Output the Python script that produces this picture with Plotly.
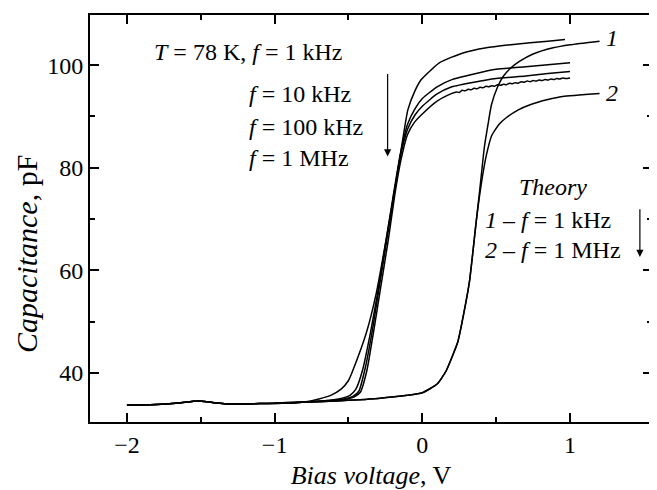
import plotly.graph_objects as go

# ---- data ----
base_v = [-2.0, -1.8, -1.65, -1.52, -1.42, -1.3, -1.1, -0.9, -0.8]
base_c = [33.7, 33.8, 34.1, 34.5, 34.2, 33.9, 34.0, 34.1, 34.3]

exp1k_v = base_v + [-0.7, -0.62, -0.55, -0.5, -0.47, -0.38, -0.312, -0.222, -0.154, -0.098, -0.05, -0.007, 0.117, 0.275, 0.434, 0.6, 0.73, 0.85, 0.966]
exp1k_c = base_c + [34.9, 35.6, 36.8, 38.5, 40.5, 47.7, 55.5, 69.8, 81.6, 91.3, 95.0, 97.2, 100.5, 102.4, 103.4, 104.0, 104.4, 104.7, 105.0]

exp10k_v = base_v + [-0.65, -0.55, -0.49, -0.45, -0.405, -0.35, -0.3, -0.25, -0.2, -0.15, -0.1, -0.05, 0.0, 0.1, 0.2, 0.35, 0.5, 0.7, 0.85, 1.0]
exp10k_c = base_c + [34.6, 35.0, 35.6, 36.8, 40.5, 48.0, 56.0, 65.0, 74.0, 82.5, 88.5, 91.5, 93.5, 95.8, 97.2, 98.3, 99.2, 99.7, 100.1, 100.5]

exp100k_v = base_v + [-0.65, -0.53, -0.47, -0.43, -0.39, -0.34, -0.29, -0.24, -0.19, -0.15, -0.1, -0.05, 0.0, 0.1, 0.2, 0.35, 0.5, 0.7, 0.85, 1.0]
exp100k_c = base_c + [34.5, 34.9, 35.4, 36.4, 40.5, 48.0, 57.0, 66.0, 75.0, 82.0, 87.5, 90.3, 92.0, 94.4, 95.8, 96.7, 97.4, 97.9, 98.4, 98.8]

exp1M_v = base_v + [-0.65, -0.52, -0.46, -0.42, -0.375, -0.33, -0.28, -0.23, -0.185, -0.145, -0.1, -0.05, 0.0, 0.1, 0.2,
                    0.23, 0.25, 0.27, 0.29, 0.31, 0.33, 0.35, 0.37, 0.39, 0.41, 0.43, 0.45, 0.47, 0.49, 0.51, 0.53, 0.55,
                    0.57, 0.59, 0.61, 0.63, 0.65, 0.67, 0.69, 0.71, 0.73, 0.75, 0.77, 0.79, 0.81, 0.83, 0.85, 0.87,
                    0.89, 0.91, 0.93, 0.95, 0.97, 1.0]
exp1M_c = base_c + [34.4, 34.8, 35.3, 36.2, 40.5, 48.0, 57.0, 66.0, 75.0, 81.5, 86.5, 89.0, 90.5, 93.0, 94.5,
                    94.8, 94.7, 95.1, 95.0, 95.3, 95.2, 95.5, 95.4, 95.7, 95.6, 95.9, 95.8, 96.0, 95.9, 96.2, 96.1, 96.3,
                    96.2, 96.5, 96.4, 96.6, 96.5, 96.8, 96.7, 96.9, 96.8, 97.0, 96.9, 97.1, 97.0, 97.2, 97.1, 97.3,
                    97.2, 97.4, 97.3, 97.5, 97.4, 97.5]

th1_v = [-1.0, -0.6, -0.3, -0.1, 0.0, 0.1, 0.16, 0.2, 0.24, 0.28, 0.32, 0.366, 0.39, 0.42, 0.445, 0.468, 0.51, 0.547, 0.6, 0.66, 0.75, 0.886, 1.0, 1.2]
th1_c = [34.1, 34.5, 35.0, 35.6, 36.1, 37.8, 40.3, 43.0, 46.0, 51.5, 58.0, 69.8, 76.0, 84.0, 88.5, 92.3, 95.8, 97.8, 99.5, 100.8, 102.2, 103.4, 104.0, 104.7]

th2_v = [-1.0, -0.6, -0.3, -0.1, 0.0, 0.1, 0.16, 0.2, 0.24, 0.28, 0.32, 0.366, 0.40, 0.434, 0.47, 0.52, 0.57, 0.65, 0.73, 0.85, 0.95, 1.2]
th2_c = [34.1, 34.5, 35.0, 35.6, 36.1, 37.8, 40.3, 43.0, 46.0, 51.5, 58.0, 69.8, 77.0, 82.5, 86.3, 88.5, 89.8, 91.3, 92.3, 93.3, 93.9, 94.5]

x_ticks = [-2, -1, 0, 1]
x_ticktext = ["−2", "−1", "0", "1"]
y_ticks = [40, 60, 80, 100]

FONT = "Liberation Serif"
FS = 24

fig = go.Figure()
for vx, cy in [(exp1k_v, exp1k_c), (exp10k_v, exp10k_c), (exp100k_v, exp100k_c),
               (exp1M_v, exp1M_c), (th1_v, th1_c), (th2_v, th2_c)]:
    fig.add_trace(go.Scatter(x=vx, y=cy, mode="lines",
                             line=dict(color="black", width=1.5, shape="spline", smoothing=0.5),
                             showlegend=False, hoverinfo="skip"))

ann_font = dict(family=FONT, size=FS, color="black")
annotations = [
    dict(x=-1.827, y=102.5, text="<i>T</i> = 78 K, <i>f</i> = 1 kHz", xanchor="left"),
    dict(x=-1.19, y=94.3, text="<i>f</i> = 10 kHz", xanchor="left"),
    dict(x=-1.19, y=88.0, text="<i>f</i> = 100 kHz", xanchor="left"),
    dict(x=-1.19, y=82.0, text="<i>f</i> = 1 MHz", xanchor="left"),
    dict(x=0.883, y=76.3, text="<i>Theory</i>", xanchor="center"),
    dict(x=0.409, y=69.8, text="<i>1</i> – <i>f</i> = 1 kHz", xanchor="left"),
    dict(x=0.409, y=64.0, text="<i>2</i> – <i>f</i> = 1 MHz", xanchor="left"),
    dict(x=1.283, y=105.4, text="<i>1</i>", xanchor="center"),
    dict(x=1.283, y=94.5, text="<i>2</i>", xanchor="center"),
]
for a in annotations:
    fig.add_annotation(xref="x", yref="y", showarrow=False, yanchor="middle",
                       font=ann_font, **a)

# y-axis title (placed as rotated text, sitting lower than centre as in the reference)
fig.add_annotation(xref="paper", yref="paper", x=-0.112, y=0.413,
                   text="<i>Capacitance</i>, pF", textangle=-90, showarrow=False,
                   xanchor="center", yanchor="middle",
                   font=dict(family=FONT, size=30, color="black"))

# arrows
for (xa, y0, y1) in [(-0.235, 98.6, 82.2), (1.473, 72.2, 62.6)]:
    fig.add_annotation(xref="x", yref="y", axref="x", ayref="y",
                       x=xa, y=y1, ax=xa, ay=y0, text="", showarrow=True,
                       arrowhead=2, arrowsize=1.2, arrowwidth=1.2, arrowcolor="black")

fig.update_xaxes(range=[-2.25, 1.555], tickvals=x_ticks, ticktext=x_ticktext,
                 ticks="inside", ticklen=9, tickwidth=1.5, tickcolor="black",
                 showline=True, linecolor="black", linewidth=2, mirror="allticks",
                 showgrid=False, zeroline=False,
                 minor=dict(tickvals=[-1.5, -0.5, 0.5], ticks="inside", ticklen=5,
                            tickwidth=1.5, tickcolor="black", showgrid=False),
                 tickfont=dict(family=FONT, size=FS, color="black"),
                 title=dict(text="<i>Bias voltage</i>, V", standoff=13,
                            font=dict(family=FONT, size=26, color="black")))
fig.update_yaxes(range=[30.4, 109.8], tickvals=y_ticks,
                 ticks="inside", ticklen=9, tickwidth=1.5, tickcolor="black",
                 showline=True, linecolor="black", linewidth=2, mirror="allticks",
                 showgrid=False, zeroline=False,
                 minor=dict(tickvals=[50, 70, 90], ticks="inside", ticklen=5,
                            tickwidth=1.5, tickcolor="black", showgrid=False),
                 tickfont=dict(family=FONT, size=FS, color="black"))

fig.update_layout(width=649, height=482,
                  margin=dict(l=82, r=5, t=7, b=68, autoexpand=False),
                  paper_bgcolor="white", plot_bgcolor="white",
                  font=dict(family=FONT, color="black"))

fig.write_html("out.html")
